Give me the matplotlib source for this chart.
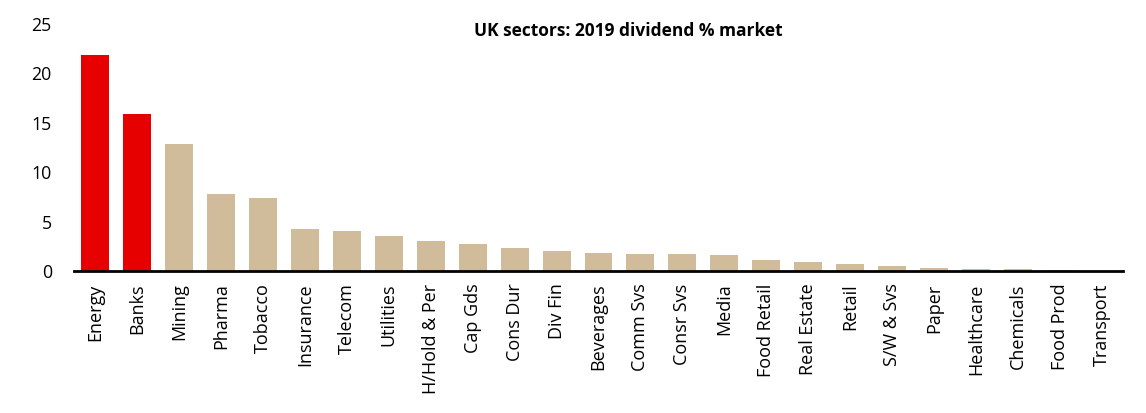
import matplotlib
matplotlib.use("Agg")
import matplotlib.pyplot as plt

categories = ["Energy", "Banks", "Mining", "Pharma", "Tobacco", "Insurance", "Telecom",
              "Utilities", "H/Hold & Per", "Cap Gds", "Cons Dur", "Div Fin", "Beverages",
              "Comm Svs", "Consr Svs", "Media", "Food Retail", "Real Estate", "Retail",
              "S/W & Svs", "Paper", "Healthcare", "Chemicals", "Food Prod", "Transport"]
values = [21.9, 15.9, 12.9, 7.8, 7.4, 4.3, 4.0, 3.5, 3.0, 2.7, 2.3, 2.0, 1.8,
          1.7, 1.7, 1.6, 1.15, 0.9, 0.7, 0.55, 0.35, 0.25, 0.25, 0.15, 0.0]
highlight = ["Energy", "Banks"]
yticks = [0, 5, 10, 15, 20, 25]
title = "UK sectors: 2019 dividend % market"

plt.rcParams['font.family'] = ['Open Sans', 'DejaVu Sans']

fig = plt.figure(figsize=(11.46, 4.13), dpi=100)
ax = fig.add_axes([74/1146, 1 - 271/413, (1123-74)/1146, (271-24)/413])

colors = ["#E60000" if c in highlight else "#D0BC9A" for c in categories]
x = list(range(len(categories)))
ax.bar(x, values, width=0.667, color=colors, zorder=2)
ax.set_xlim(-0.5, len(categories) - 0.5)
ax.set_ylim(0, 25)
ax.set_yticks(yticks)
ax.set_yticklabels([str(t) for t in yticks], fontsize=12.8)
ax.set_xticks(x)
ax.set_xticklabels(categories, rotation=90, fontsize=13)
ax.tick_params(axis='both', length=0)
ax.tick_params(axis='y', pad=16)
ax.tick_params(axis='x', pad=9)
for s in ['top', 'right', 'left']:
    ax.spines[s].set_visible(False)
ax.spines['bottom'].set_linewidth(2)
ax.spines['bottom'].set_color('black')
ax.spines['bottom'].set_zorder(3)

fig.text(628/1146, 1 - 31/413, title, ha='center', va='center', fontsize=12.5, fontweight='bold')

fig.savefig("out.png", dpi=100)
